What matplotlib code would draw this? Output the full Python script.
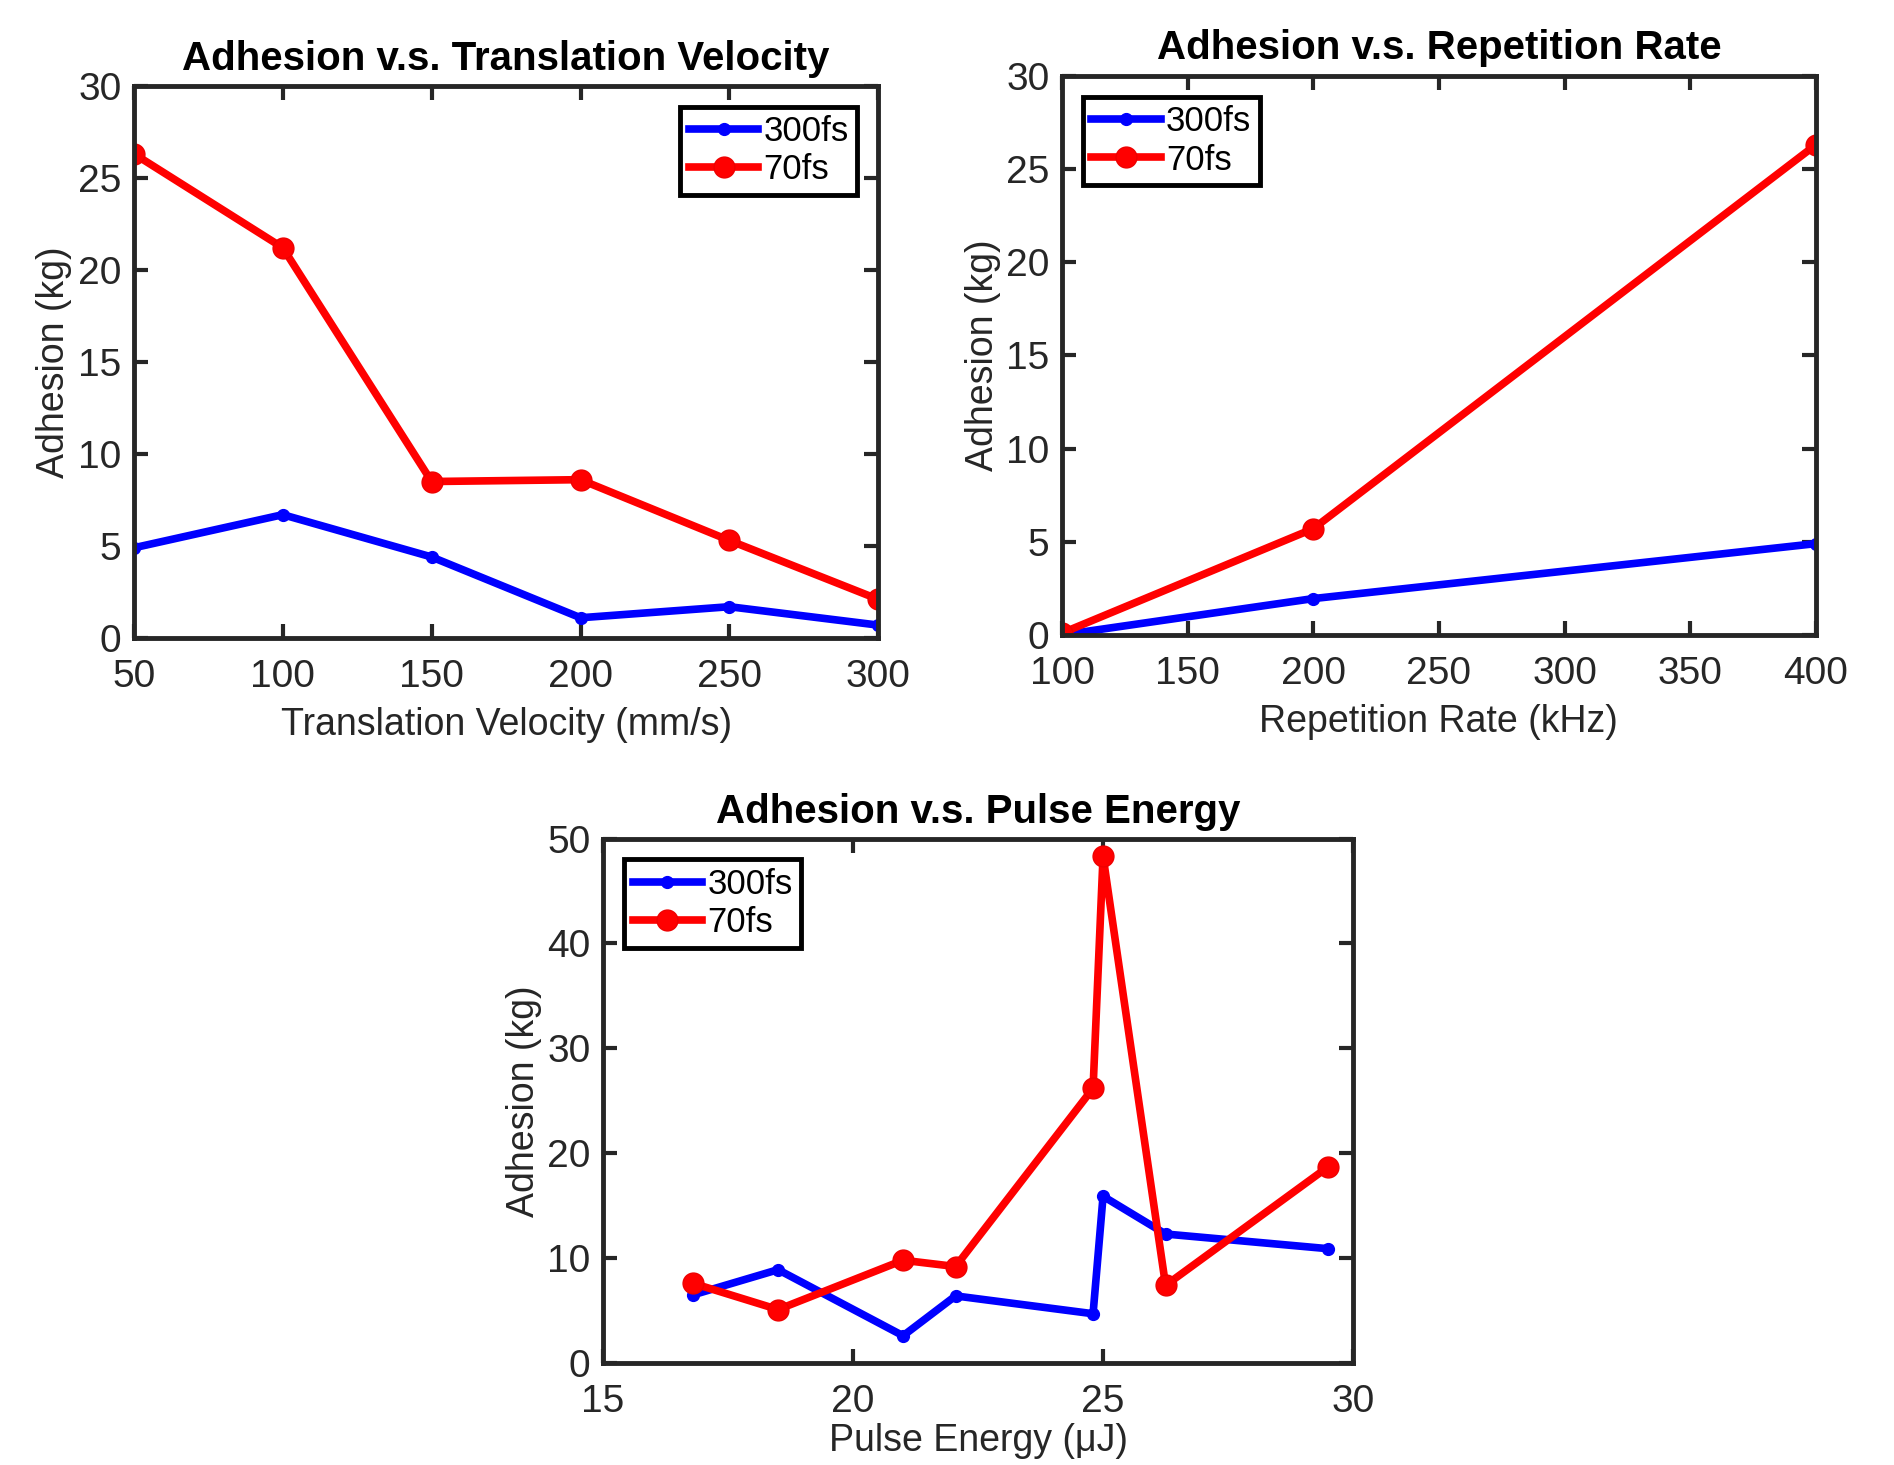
import matplotlib.pyplot as plt

# data
velocity = [50, 100, 150, 200, 250, 300]
vel_300fs = [4.9, 6.7, 4.4, 1.1, 1.7, 0.7]
vel_70fs = [26.3, 21.2, 8.5, 8.6, 5.3, 2.1]

rep_rate = [100, 200, 400]
rep_300fs = [0.0, 1.95, 4.9]
rep_70fs = [0.1, 5.7, 26.3]

energy = [16.8, 18.5, 21.0, 22.05, 24.8, 25.0, 26.25, 29.5]
en_300fs = [6.5, 8.9, 2.6, 6.4, 4.7, 15.9, 12.3, 10.9]
en_70fs = [7.6, 5.1, 9.8, 9.2, 26.2, 48.3, 7.4, 18.7]

plt.rcParams['font.family'] = ['Liberation Sans', 'DejaVu Sans']

grey = '#262626'
plt.rcParams['text.color'] = grey
plt.rcParams['axes.labelcolor'] = grey
plt.rcParams['xtick.color'] = grey
plt.rcParams['ytick.color'] = grey

fig = plt.figure(figsize=(18.94, 14.65), dpi=100)
ax1 = fig.add_axes([0.0707, 0.5645, 0.393, 0.377])
ax2 = fig.add_axes([0.5607, 0.5666, 0.398, 0.3816])
ax3 = fig.add_axes([0.3184, 0.0696, 0.396, 0.358])


def draw(ax, x, y1, y2, title, xlabel, xlim, ylim, xticks, yticks, loc, tpad, xpad):
    ax.plot(x, y1, '-', color='#0000ff', lw=5.5, marker='.', ms=17, label='300fs')
    ax.plot(x, y2, '-', color='#ff0000', lw=5.5, marker='o', ms=15,
            mfc='#ff0000', mec='#ee0000', label='70fs')
    ax.set_xlim(xlim)
    ax.set_ylim(ylim)
    ax.set_xticks(xticks)
    ax.set_yticks(yticks)
    ax.tick_params(direction='in', top=True, right=True, length=10, width=3,
                   labelsize=28)
    ax.tick_params(axis='x', pad=15)
    ax.tick_params(axis='y', pad=9)
    for s in ax.spines.values():
        s.set_linewidth(3.5)
        s.set_color(grey)
    ax.set_title(title, fontsize=29, fontweight='bold', color='black', pad=tpad)
    ax.set_xlabel(xlabel, fontsize=27, labelpad=xpad)
    ax.set_ylabel('Adhesion (kg)', fontsize=27, labelpad=4)
    leg = ax.legend(loc=loc, fontsize=25, fancybox=False, framealpha=1,
                    handlelength=2.0, handletextpad=0.15, borderpad=0.25,
                    labelspacing=0.15, borderaxespad=0.6)
    leg.get_frame().set_edgecolor('black')
    leg.get_frame().set_linewidth(3.5)
    for t in leg.get_texts():
        t.set_color('black')


draw(ax1, velocity, vel_300fs, vel_70fs, 'Adhesion v.s. Translation Velocity',
     'Translation Velocity (mm/s)', (50, 300), (0, 30),
     range(50, 301, 50), range(0, 31, 5), 'upper right', 11, 9)
draw(ax2, rep_rate, rep_300fs, rep_70fs, 'Adhesion v.s. Repetition Rate',
     'Repetition Rate (kHz)', (100, 400), (0, 30),
     range(100, 401, 50), range(0, 31, 5), 'upper left', 12, 9)
draw(ax3, energy, en_300fs, en_70fs, 'Adhesion v.s. Pulse Energy',
     'Pulse Energy (\u03bcJ)', (15, 30), (0, 50),
     range(15, 31, 5), range(0, 51, 10), 'upper left', 11, 2)

plt.savefig('out.png', dpi=100)
